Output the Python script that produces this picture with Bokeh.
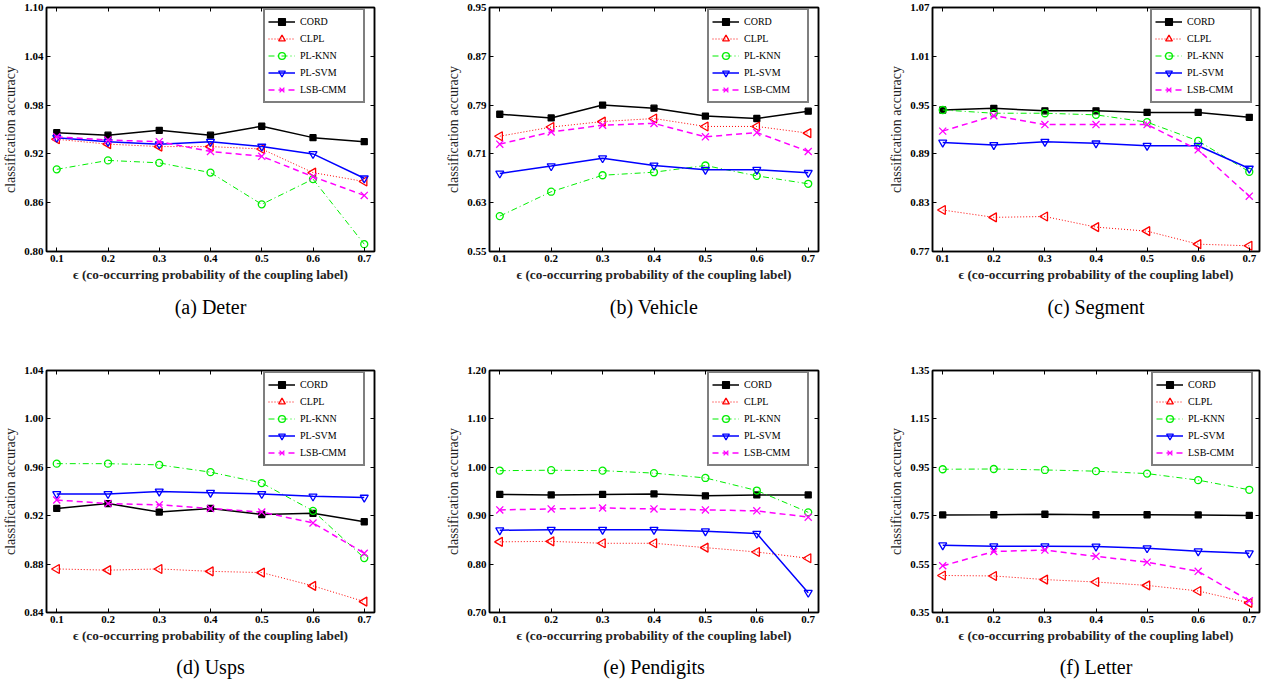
from math import pi
from bokeh.plotting import figure
from bokeh.models import (Range1d, FixedTicker, LinearAxis, Title, Legend,
                          PrintfTickFormatter)
from bokeh.layouts import row, column
from bokeh.embed import file_html
from bokeh.resources import INLINE

eps = [0.1, 0.2, 0.3, 0.4, 0.5, 0.6, 0.7]
methods = ["CORD", "CLPL", "PL-KNN", "PL-SVM", "LSB-CMM"]

deter_cord = [0.946, 0.943, 0.949, 0.943, 0.954, 0.940, 0.935]
deter_clpl = [0.938, 0.932, 0.929, 0.929, 0.926, 0.897, 0.886]
deter_plknn = [0.901, 0.912, 0.909, 0.897, 0.858, 0.889, 0.809]
deter_plsvm = [0.940, 0.935, 0.932, 0.935, 0.929, 0.920, 0.890]
deter_lsbcmm = [0.941, 0.937, 0.935, 0.923, 0.917, 0.892, 0.869]
deter_yticks = [0.80, 0.86, 0.92, 0.98, 1.04, 1.10]

vehicle_cord = [0.775, 0.769, 0.790, 0.785, 0.772, 0.768, 0.780]
vehicle_clpl = [0.739, 0.754, 0.763, 0.768, 0.755, 0.755, 0.744]
vehicle_plknn = [0.608, 0.648, 0.675, 0.680, 0.691, 0.674, 0.661]
vehicle_plsvm = [0.678, 0.690, 0.703, 0.691, 0.684, 0.684, 0.679]
vehicle_lsbcmm = [0.726, 0.746, 0.757, 0.760, 0.738, 0.745, 0.714]
vehicle_yticks = [0.55, 0.63, 0.71, 0.79, 0.87, 0.95]

segment_cord = [0.944, 0.946, 0.943, 0.943, 0.941, 0.941, 0.935]
segment_clpl = [0.821, 0.812, 0.813, 0.800, 0.795, 0.779, 0.777]
segment_plknn = [0.944, 0.940, 0.940, 0.938, 0.929, 0.906, 0.868]
segment_plsvm = [0.904, 0.901, 0.905, 0.903, 0.900, 0.900, 0.872]
segment_lsbcmm = [0.918, 0.937, 0.926, 0.926, 0.926, 0.895, 0.838]
segment_yticks = [0.77, 0.83, 0.89, 0.95, 1.01, 1.07]

usps_cord = [0.926, 0.930, 0.923, 0.926, 0.921, 0.922, 0.915]
usps_clpl = [0.876, 0.875, 0.876, 0.874, 0.873, 0.862, 0.849]
usps_plknn = [0.963, 0.963, 0.962, 0.956, 0.947, 0.924, 0.885]
usps_plsvm = [0.938, 0.938, 0.940, 0.939, 0.938, 0.936, 0.935]
usps_lsbcmm = [0.933, 0.930, 0.929, 0.926, 0.923, 0.914, 0.889]
usps_yticks = [0.84, 0.88, 0.92, 0.96, 1.00, 1.04]

pendigits_cord = [0.944, 0.943, 0.944, 0.945, 0.941, 0.943, 0.943]
pendigits_clpl = [0.846, 0.847, 0.843, 0.843, 0.834, 0.825, 0.812]
pendigits_plknn = [0.993, 0.994, 0.993, 0.988, 0.978, 0.952, 0.907]
pendigits_plsvm = [0.870, 0.871, 0.871, 0.871, 0.868, 0.863, 0.741]
pendigits_lsbcmm = [0.912, 0.914, 0.916, 0.914, 0.912, 0.910, 0.897]
pendigits_yticks = [0.70, 0.80, 0.90, 1.00, 1.10, 1.20]

letter_cord = [0.753, 0.754, 0.756, 0.754, 0.754, 0.753, 0.751]
letter_clpl = [0.503, 0.501, 0.486, 0.476, 0.462, 0.439, 0.390]
letter_plknn = [0.942, 0.943, 0.939, 0.934, 0.924, 0.897, 0.857]
letter_plsvm = [0.628, 0.624, 0.624, 0.623, 0.616, 0.603, 0.595]
letter_lsbcmm = [0.543, 0.602, 0.608, 0.582, 0.558, 0.520, 0.399]
letter_yticks = [0.35, 0.55, 0.75, 0.95, 1.15, 1.35]

FONT = "'Liberation Serif', 'Times New Roman', 'DejaVu Serif', serif"
XLABEL = "\u03f5 (co-occurring probability of the coupling label)"
YLABEL = "classification accuracy"

styles = [
    dict(color="#000000", dash="solid", lw=1.5, marker="square", size=6, fill="#000000", angle=0.0),
    dict(color="#ff0000", dash="1 2", lw=1.0, marker="triangle", size=9, fill=None, angle=pi / 2),
    dict(color="#00ee00", dash="6 3 1 3", lw=1.0, marker="circle", size=7, fill=None, angle=0.0),
    dict(color="#0000ff", dash="solid", lw=1.5, marker="inverted_triangle", size=8, fill=None, angle=0.0),
    dict(color="#ff00ff", dash="6 4", lw=1.5, marker="x", size=10, fill=None, angle=0.0),
]


def panel(caption, yticks, series, width, height, bl, br, bt, bb, leg_gap_r, leg_gap_t, cap_standoff):
    p = figure(width=width, height=height, title=None,
               x_range=Range1d(0.08, 0.72), y_range=Range1d(yticks[0], yticks[-1]),
               output_backend="svg", toolbar_location=None,
               min_border_left=bl, min_border_right=br, min_border_top=bt, min_border_bottom=bb,
               background_fill_color="white", border_fill_color="white")
    p.xgrid.visible = False
    p.ygrid.visible = False
    p.outline_line_color = "black"
    p.outline_line_width = 1.5
    items = []
    for name, ys, st in zip(methods, series, styles):
        r1 = p.line(eps, ys, line_color=st["color"], line_width=st["lw"], line_dash=st["dash"])
        r2 = p.scatter(eps, ys, marker=st["marker"], size=st["size"], angle=st["angle"],
                       line_color=st["color"], line_width=1.3,
                       fill_color=st["fill"])
        items.append((name, [r1, r2]))
    p.xaxis.ticker = FixedTicker(ticks=eps)
    p.xaxis.formatter = PrintfTickFormatter(format="%.1f")
    p.yaxis.ticker = FixedTicker(ticks=yticks)
    p.yaxis.formatter = PrintfTickFormatter(format="%.2f")
    p.xaxis.axis_label = XLABEL
    p.yaxis.axis_label = YLABEL
    for ax in p.axis:
        ax.major_tick_in = 4
        ax.major_tick_out = 0
        ax.minor_tick_line_color = None
        ax.axis_line_width = 1.5
        ax.major_tick_line_width = 1
        ax.major_label_text_font = FONT
        ax.major_label_text_font_style = "bold"
        ax.major_label_text_font_size = "11px"
        ax.major_label_text_color = "black"
        ax.axis_label_text_font = FONT
        ax.axis_label_text_color = "#222222"
    p.xaxis.axis_label_text_font_style = "bold"
    p.xaxis.axis_label_text_font_size = "13.3px"
    p.yaxis.axis_label_text_font_style = "normal"
    p.yaxis.axis_label_text_font_size = "14px"
    p.xaxis.major_label_standoff = 3
    p.xaxis.axis_label_standoff = 2
    p.yaxis.major_label_standoff = 3
    p.yaxis.axis_label_standoff = 3
    ra = LinearAxis(ticker=FixedTicker(ticks=yticks),
                    major_label_overrides={t: "" for t in yticks},
                    major_tick_in=4, major_tick_out=0, minor_tick_line_color=None,
                    major_label_standoff=0, axis_line_width=1.5)
    p.add_layout(ra, "right")
    ta = LinearAxis(ticker=FixedTicker(ticks=eps),
                    major_label_overrides={t: "" for t in eps},
                    major_tick_in=4, major_tick_out=0, minor_tick_line_color=None,
                    major_label_standoff=0, axis_line_width=1.5)
    p.add_layout(ta, "above")

    fw = width - bl - br
    fh = height - bt - bb
    lw, lh = 100, 91
    leg = Legend(items=items, location=(fw - leg_gap_r - lw, fh - leg_gap_t - lh),
                 margin=0, padding=3, spacing=0, glyph_width=27, glyph_height=17,
                 label_height=17, label_width=60, label_standoff=5,
                 label_text_font=FONT, label_text_font_size="10px", label_text_color="black",
                 border_line_color="black", border_line_width=2,
                 background_fill_color="white", background_fill_alpha=1.0)
    p.add_layout(leg, "center")

    cap = Title(text=caption, align="center", text_font=FONT, text_font_size="20px",
                text_font_style="normal", text_color="black", standoff=cap_standoff, offset=-8)
    p.add_layout(cap, "below")
    return p


pa = panel("(a) Deter", deter_yticks,
           [deter_cord, deter_clpl, deter_plknn, deter_plsvm, deter_lsbcmm],
           443, 336, 46, 69, 7, 85, 11, 5, 18)
pb = panel("(b) Vehicle", vehicle_yticks,
           [vehicle_cord, vehicle_clpl, vehicle_plknn, vehicle_plsvm, vehicle_lsbcmm],
           443, 336, 46, 68, 7, 85, 11, 5, 18)
pc = panel("(c) Segment", segment_yticks,
           [segment_cord, segment_clpl, segment_plknn, segment_plsvm, segment_lsbcmm],
           381, 336, 46, 8, 7, 85, 9, 5, 18)
pd_ = panel("(d) Usps", usps_yticks,
            [usps_cord, usps_clpl, usps_plknn, usps_plsvm, usps_lsbcmm],
            443, 349, 46, 69, 34, 72, 11, 6, 16)
pe = panel("(e) Pendigits", pendigits_yticks,
           [pendigits_cord, pendigits_clpl, pendigits_plknn, pendigits_plsvm, pendigits_lsbcmm],
           443, 349, 46, 68, 34, 72, 11, 6, 16)
pf = panel("(f) Letter", letter_yticks,
           [letter_cord, letter_clpl, letter_plknn, letter_plsvm, letter_lsbcmm],
           381, 349, 46, 8, 34, 72, 8, 6, 16)

layout = column(row(pa, pb, pc), row(pd_, pe, pf))
open("out.html", "w").write(file_html(layout, INLINE))
